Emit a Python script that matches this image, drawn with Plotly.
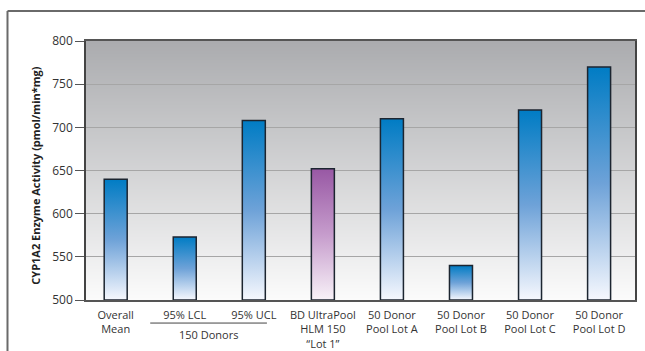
import base64, struct, zlib
import plotly.graph_objects as go

# ---------------- data ----------------
categories = ["Overall<br>Mean", "95% LCL", "95% UCL", "BD UltraPool<br>HLM 150<br>“Lot 1”",
              "50 Donor<br>Pool Lot A", "50 Donor<br>Pool Lot B", "50 Donor<br>Pool Lot C",
              "50 Donor<br>Pool Lot D"]
values = [640, 573, 708, 652, 710, 540, 720, 770]
bar_kind = ["blue", "blue", "blue", "purple", "blue", "blue", "blue", "blue"]
y_ticks = [500, 550, 600, 650, 700, 750, 800]
group_label = "150 Donors"
y_title = "CYP1A2 Enzyme Activity (pmol/min*mg)"

# ---------------- style ----------------
BASE = 500
BAR_W = 0.333
scales = {
    "blue": [[0, "rgb(246,248,254)"], [0.5, "rgb(110,162,216)"], [1, "rgb(0,124,196)"]],
    "purple": [[0, "rgb(248,242,248)"], [0.5, "rgb(198,156,204)"], [1, "rgb(152,88,164)"]],
}


def png_gradient(top, bottom, n=256):
    rows = []
    for i in range(n):
        t = i / (n - 1)
        c = tuple(int(round(top[k] + (bottom[k] - top[k]) * t)) for k in range(3))
        rows.append(b"\x00" + bytes(c) * 2)
    raw = b"".join(rows)

    def chunk(tag, data):
        return struct.pack(">I", len(data)) + tag + data + struct.pack(">I", zlib.crc32(tag + data) & 0xffffffff)

    ihdr = struct.pack(">IIBBBBB", 2, n, 8, 2, 0, 0, 0)
    png = b"\x89PNG\r\n\x1a\n" + chunk(b"IHDR", ihdr) + chunk(b"IDAT", zlib.compress(raw)) + chunk(b"IEND", b"")
    return "data:image/png;base64," + base64.b64encode(png).decode()


fig = go.Figure()
for i, (v, kind) in enumerate(zip(values, bar_kind)):
    x0, x1 = i - BAR_W / 2, i + BAR_W / 2
    fig.add_trace(go.Scatter(
        x=[x0, x1, x1, x0, x0], y=[BASE, BASE, v, v, BASE],
        mode="lines", fill="toself",
        fillgradient=dict(type="vertical", colorscale=scales[kind]),
        line=dict(color="#1c2530", width=1.5),
        hoverinfo="skip", showlegend=False,
    ))

fig.add_layout_image(dict(
    source=png_gradient((171, 172, 175), (251, 251, 251)),
    xref="paper", yref="paper", x=0, y=1, sizex=1, sizey=1,
    xanchor="left", yanchor="top", sizing="stretch", layer="below",
))

# outer frame (top and left edges visible)
fig.add_shape(type="line", xref="paper", yref="paper", x0=-0.143, x1=1.03, y0=1.116, y1=1.116,
              line=dict(color="#6a6a6a", width=2))
fig.add_shape(type="line", xref="paper", yref="paper", x0=-0.143, x1=-0.143, y0=1.116, y1=-0.3,
              line=dict(color="#6a6a6a", width=2))
# group bracket line
fig.add_shape(type="line", xref="x", yref="paper", x0=0.5, x1=2.19, y0=-0.089, y1=-0.089,
              line=dict(color="#444444", width=1))
fig.add_annotation(x=1.34, xref="x", y=-0.135, yref="paper", text=group_label, showarrow=False,
                   xanchor="center", yanchor="middle",
                   font=dict(family="Open Sans", size=11, color="#333333"))
fig.add_annotation(x=-0.091, xref="paper", y=0.48, yref="paper", text="<b>" + y_title + "</b>",
                   textangle=-90, showarrow=False, xanchor="center", yanchor="middle",
                   font=dict(family="Open Sans", size=11, color="#222222"))

fig.update_layout(
    width=645, height=351,
    margin=dict(l=86, r=10, t=41, b=51, autoexpand=False),
    paper_bgcolor="white", plot_bgcolor="rgba(0,0,0,0)",
    font=dict(family="Open Sans", size=11, color="#333333"),
    xaxis=dict(range=[-0.43, 7.52], tickvals=list(range(len(categories))), ticktext=categories,
               showgrid=False, zeroline=False, showline=True, mirror=True, automargin=False,
               linecolor="#555555", linewidth=1.5, ticks="", fixedrange=True, ticklabelstandoff=4,
               tickfont=dict(size=11, color="#333333")),
    yaxis=dict(range=[BASE, 800], tickvals=y_ticks, showgrid=True, gridcolor="#a6a6a6", gridwidth=1,
               zeroline=False, showline=True, mirror=True, linecolor="#444444", linewidth=1.5,
               automargin=False, ticks="outside", ticklen=9, tickcolor="#555555",
               tickfont=dict(size=12, color="#333333")),
)

fig.write_html("out.html")
